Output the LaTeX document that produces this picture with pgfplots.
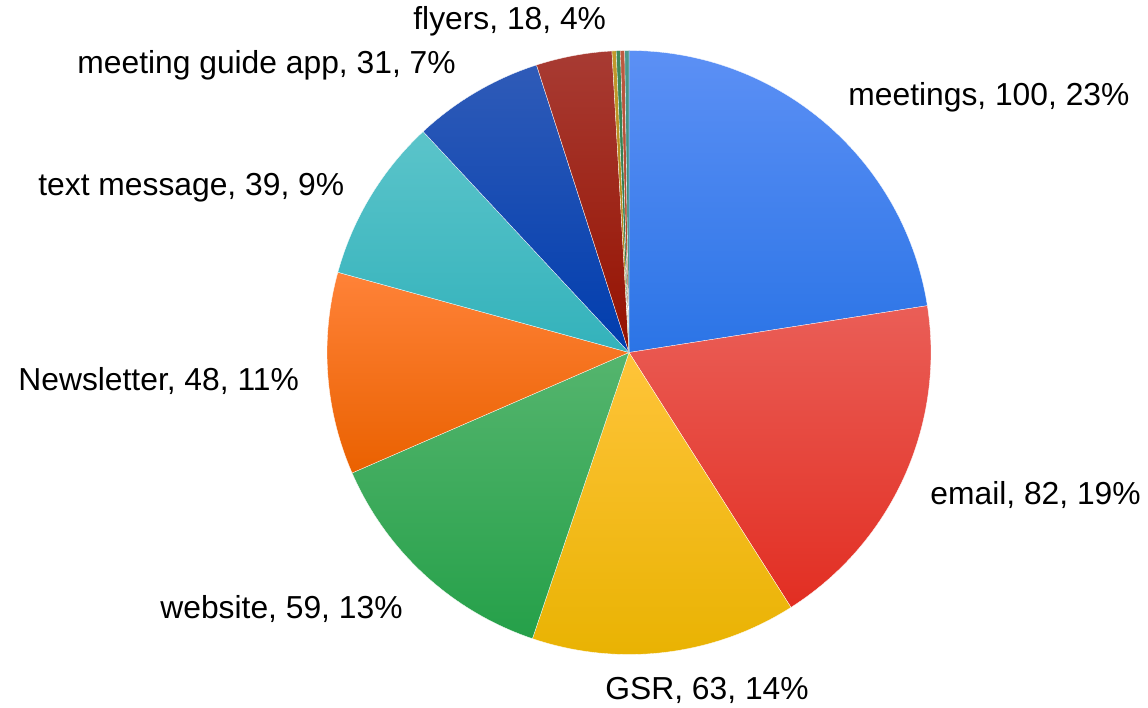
\documentclass[border=0pt]{standalone}
\usepackage{fontspec}
\setmainfont{Liberation Sans}
\usepackage{pgfplots}
\usepackage{pgfplotstable}
\pgfplotsset{compat=1.18}

% slice colours: t = top, m = middle, b = bottom of the gradient
\definecolor{c0t}{HTML}{5C90F5}\definecolor{c0m}{HTML}{3B82F6}\definecolor{c0b}{HTML}{2B74E6}
\definecolor{c1t}{HTML}{EA5E57}\definecolor{c1m}{HTML}{EF3B2E}\definecolor{c1b}{HTML}{E22E22}
\definecolor{c2t}{HTML}{FFC43A}\definecolor{c2m}{HTML}{FCC100}\definecolor{c2b}{HTML}{E8B200}
\definecolor{c3t}{HTML}{55B56E}\definecolor{c3m}{HTML}{2FAA4E}\definecolor{c3b}{HTML}{25A049}
\definecolor{c4t}{HTML}{FF8238}\definecolor{c4m}{HTML}{FF6D00}\definecolor{c4b}{HTML}{EA6100}
\definecolor{c5t}{HTML}{5BC4CA}\definecolor{c5m}{HTML}{3FBFC7}\definecolor{c5b}{HTML}{33B2BB}
\definecolor{c6t}{HTML}{2F5BB8}\definecolor{c6m}{HTML}{0B47B8}\definecolor{c6b}{HTML}{003DAE}
\definecolor{c7t}{HTML}{A83B33}\definecolor{c7m}{HTML}{A51C0D}\definecolor{c7b}{HTML}{951200}
\definecolor{c8t}{HTML}{C29A2C}\definecolor{c8m}{HTML}{B8860B}\definecolor{c8b}{HTML}{A87A08}
\definecolor{c9t}{HTML}{3F8A5A}\definecolor{c9m}{HTML}{2E7D4F}\definecolor{c9b}{HTML}{256F44}
\definecolor{c10t}{HTML}{BD5A40}\definecolor{c10m}{HTML}{B5462B}\definecolor{c10b}{HTML}{A33B22}
\definecolor{c11t}{HTML}{4A9A8E}\definecolor{c11m}{HTML}{3A8C80}\definecolor{c11b}{HTML}{2F7E72}

\pgfplotstableread[col sep=comma]{
name,value
meetings,100
email,82
GSR,63
website,59
Newsletter,48
text message,39
meeting guide app,31
flyers,18
other a,1
other b,1
other c,1
other d,1
}\piedata
\pgfplotstablecreatecol[create col/expr accum={\pgfmathaccuma+\thisrow{value}}{0}]{cum}\piedata
\pgfplotstablegetrowsof{\piedata}
\pgfmathtruncatemacro\lastrow{\pgfplotsretval-1}
\pgfplotstablegetelem{\lastrow}{cum}\of\piedata
\edef\pietotal{\pgfplotsretval}
\def\pieR{151pt}

\tikzset{lbl/.style={anchor=base west, inner sep=0pt,
  font=\fontsize{15.9pt}{19pt}\selectfont}}

\begin{document}
\begin{tikzpicture}
\begin{axis}[
  x=0.5pt, y=0.5pt,
  xmin=0, xmax=1148, ymin=0, ymax=708,
  hide axis, clip=false
]
\path (rel axis cs:0,0) rectangle (rel axis cs:1,1);
\pgfplotsinvokeforeach{0,...,11}{
  \pgfplotsextra{
    \pgfplotstablegetelem{#1}{cum}\of\piedata
    \pgfmathsetmacro\cumv{\pgfplotsretval}
    \pgfplotstablegetelem{#1}{value}\of\piedata
    \pgfmathsetmacro\val{\pgfplotsretval}
    \pgfmathsetmacro\aend{90-\cumv/\pietotal*360}
    \pgfmathsetmacro\astart{\aend+\val/\pietotal*360}
    \path[top color=c#1t, middle color=c#1m, bottom color=c#1b,
          draw=white, line width=0.15pt]
      (axis cs:629,355.5) -- ++(\astart:\pieR)
      arc[start angle=\astart, end angle=\aend, radius=\pieR] -- cycle;
  }
}
\node[lbl] at (axis cs:848,602) {meetings, 100, 23\%};
\node[lbl] at (axis cs:930,203) {email, 82, 19\%};
\node[lbl] at (axis cs:605,9) {GSR, 63, 14\%};
\node[lbl] at (axis cs:160,90) {website, 59, 13\%};
\node[lbl] at (axis cs:18,317) {Newsletter, 48, 11\%};
\node[lbl] at (axis cs:38,512) {text message, 39, 9\%};
\node[lbl] at (axis cs:77,634) {meeting guide app, 31, 7\%};
\node[lbl] at (axis cs:413,678) {flyers, 18, 4\%};
\end{axis}
\end{tikzpicture}
\end{document}
